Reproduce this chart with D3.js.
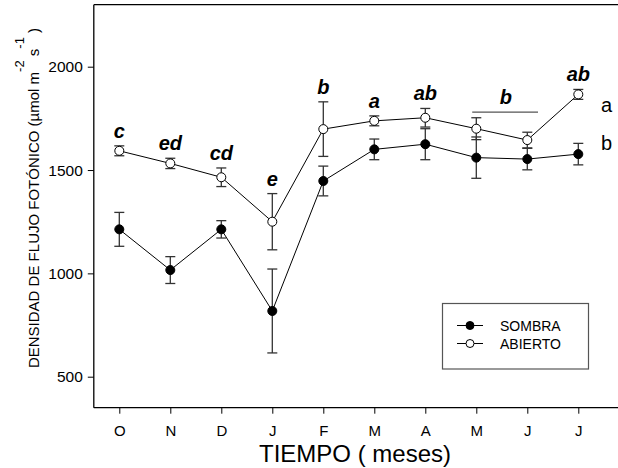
<!DOCTYPE html>
<html>
<head>
<meta charset="utf-8">
<script src="https://cdn.jsdelivr.net/npm/d3@7"></script>
<style>
  html, body { margin: 0; padding: 0; background: #fff; }
  svg { display: block; font-family: Arial, "Liberation Sans", sans-serif; }
</style>
</head>
<body>
<svg id="chart" width="618" height="468"></svg>
<script>
// Months (October to July)
const months = ["O", "N", "D", "J", "F", "M", "A", "M", "J", "J"];

// Photon flux density, shaded sites (mean and standard error)
const sombraMean = [1213, 1016, 1213, 818, 1447, 1600, 1625, 1560, 1553, 1577];
const sombraErr  = [82, 65, 42, 203, 72, 50, 75, 100, 52, 52];

// Photon flux density, open sites (mean and standard error)
const abiertoMean = [1593, 1532, 1465, 1250, 1698, 1738, 1753, 1700, 1645, 1866];
const abiertoErr  = [24, 25, 45, 136, 132, 24, 45, 53, 38, 24];

// Significance letters over the open series (empty where a group letter is used)
const monthLetters = ["c", "ed", "cd", "e", "b", "a", "ab", "", "", "ab"];
// May–June grouped under a single letter
const groupLetter = { text: "b", from: 7, to: 8, value: 1780 };

// Series letters on the right
const seriesLetters = ["a", "b"];

const yTicks = [500, 1000, 1500, 2000];

const svg = d3.select("#chart");
const width = 618;

const x = d3.scaleLinear().domain([0, 9]).range([119.3, 578.3]);
const y = d3.scaleLinear().domain([350, 2300]).range([407.7, 4.7]);
const step = x(1) - x(0);
const left = x(-0.5);

// Frame: left, top, bottom
const frame = svg.append("g").attr("stroke", "#000").attr("stroke-width", 1.3).attr("fill", "none");
frame.append("line").attr("x1", left).attr("x2", left).attr("y1", y(2300)).attr("y2", y(350));
frame.append("line").attr("x1", left).attr("x2", width + 5).attr("y1", y(2300)).attr("y2", y(2300));
frame.append("line").attr("x1", left).attr("x2", width + 5).attr("y1", y(350)).attr("y2", y(350));

// Y axis
const yAxis = d3.axisLeft(y).tickValues(yTicks).tickFormat(d3.format("d"))
  .tickSize(6).tickPadding(5).tickSizeOuter(0);
const gy = svg.append("g").attr("transform", `translate(${left},0)`).call(yAxis);
gy.select(".domain").remove();
gy.selectAll(".tick line").attr("stroke", "#000").attr("stroke-width", 1);
gy.selectAll(".tick text").attr("font-size", 15.5).attr("fill", "#000")
  .attr("font-family", "Arial, 'Liberation Sans', sans-serif");

// X axis
const xAxis = d3.axisBottom(x).tickValues(d3.range(months.length))
  .tickFormat(i => months[i]).tickSize(6).tickPadding(12).tickSizeOuter(0);
const gx = svg.append("g").attr("transform", `translate(0,${y(350)})`).call(xAxis);
gx.select(".domain").remove();
gx.selectAll(".tick line").attr("stroke", "#000").attr("stroke-width", 1);
gx.selectAll(".tick text").attr("font-size", 15).attr("fill", "#000")
  .attr("font-family", "Arial, 'Liberation Sans', sans-serif");

// Axis titles
svg.append("text")
  .attr("x", 355).attr("y", 462)
  .attr("text-anchor", "middle")
  .attr("font-size", 24)
  .text("TIEMPO ( meses)");

const yTitle = svg.append("text")
  .attr("transform", "translate(39,198) rotate(-90)")
  .attr("text-anchor", "middle")
  .attr("font-size", 15);
yTitle.append("tspan").text("DENSIDAD DE FLUJO FOTÓNICO (µmol m");
yTitle.append("tspan").attr("dy", -15).attr("font-size", 13).text("-2");
yTitle.append("tspan").attr("dy", 15).text(" s");
yTitle.append("tspan").attr("dy", -15).attr("font-size", 13).text("-1");
yTitle.append("tspan").attr("dy", 15).text(" )");

// Draw one series: error bars, connecting line, markers
function drawSeries(means, errs, fill) {
  const g = svg.append("g");
  const idx = d3.range(means.length);
  const cap = 5;
  const eb = g.append("g").attr("stroke", "#333").attr("stroke-width", 1.3);
  idx.forEach(i => {
    const cx = x(i), yt = y(means[i] + errs[i]), yb = y(means[i] - errs[i]);
    eb.append("line").attr("x1", cx).attr("x2", cx).attr("y1", yt).attr("y2", yb);
    eb.append("line").attr("x1", cx - cap).attr("x2", cx + cap).attr("y1", yt).attr("y2", yt);
    eb.append("line").attr("x1", cx - cap).attr("x2", cx + cap).attr("y1", yb).attr("y2", yb);
  });
  g.append("path")
    .datum(idx)
    .attr("fill", "none")
    .attr("stroke", "#000")
    .attr("stroke-width", 1)
    .attr("d", d3.line().x(i => x(i)).y(i => y(means[i])));
  g.selectAll("circle").data(idx).join("circle")
    .attr("cx", i => x(i)).attr("cy", i => y(means[i]))
    .attr("r", 4.5)
    .attr("fill", fill)
    .attr("stroke", "#000")
    .attr("stroke-width", 1);
}

drawSeries(sombraMean, sombraErr, "#000");
drawSeries(abiertoMean, abiertoErr, "#fff");

// Significance letters
svg.append("g").selectAll("text").data(d3.range(months.length).filter(i => monthLetters[i]))
  .join("text")
  .attr("x", i => x(i))
  .attr("y", i => y(abiertoMean[i] + abiertoErr[i]) - 8)
  .attr("text-anchor", "middle")
  .attr("font-size", 20)
  .attr("font-weight", "bold")
  .attr("font-style", "italic")
  .text(i => monthLetters[i]);

svg.append("line")
  .attr("x1", x(groupLetter.from) - step * 0.08)
  .attr("x2", x(groupLetter.to) + step * 0.21)
  .attr("y1", y(groupLetter.value)).attr("y2", y(groupLetter.value))
  .attr("stroke", "#555").attr("stroke-width", 1.3);
svg.append("text")
  .attr("x", (x(groupLetter.from) + x(groupLetter.to)) / 2 + 4)
  .attr("y", y(groupLetter.value) - 8)
  .attr("text-anchor", "middle")
  .attr("font-size", 20)
  .attr("font-weight", "bold")
  .attr("font-style", "italic")
  .text(groupLetter.text);

// Series letters beside the last month
svg.append("text").attr("x", 601).attr("y", 112).attr("font-size", 20).text(seriesLetters[0]);
svg.append("text").attr("x", 601).attr("y", 150).attr("font-size", 20).text(seriesLetters[1]);

// Legend
const legend = svg.append("g");
legend.append("rect")
  .attr("x", 442.5).attr("y", 303.5).attr("width", 146).attr("height", 65.5)
  .attr("fill", "#fff").attr("stroke", "#555").attr("stroke-width", 1.2);
const legendItems = [
  { label: "SOMBRA", fill: "#000", yy: 325.5 },
  { label: "ABIERTO", fill: "#fff", yy: 343.5 }
];
legendItems.forEach(d => {
  legend.append("line").attr("x1", 457).attr("x2", 483).attr("y1", d.yy).attr("y2", d.yy)
    .attr("stroke", "#000").attr("stroke-width", 1);
  legend.append("circle").attr("cx", 470).attr("cy", d.yy).attr("r", 4)
    .attr("fill", d.fill).attr("stroke", "#000").attr("stroke-width", 1);
  legend.append("text").attr("x", 500).attr("y", d.yy + 5).attr("font-size", 14).text(d.label);
});
</script>
</body>
</html>
